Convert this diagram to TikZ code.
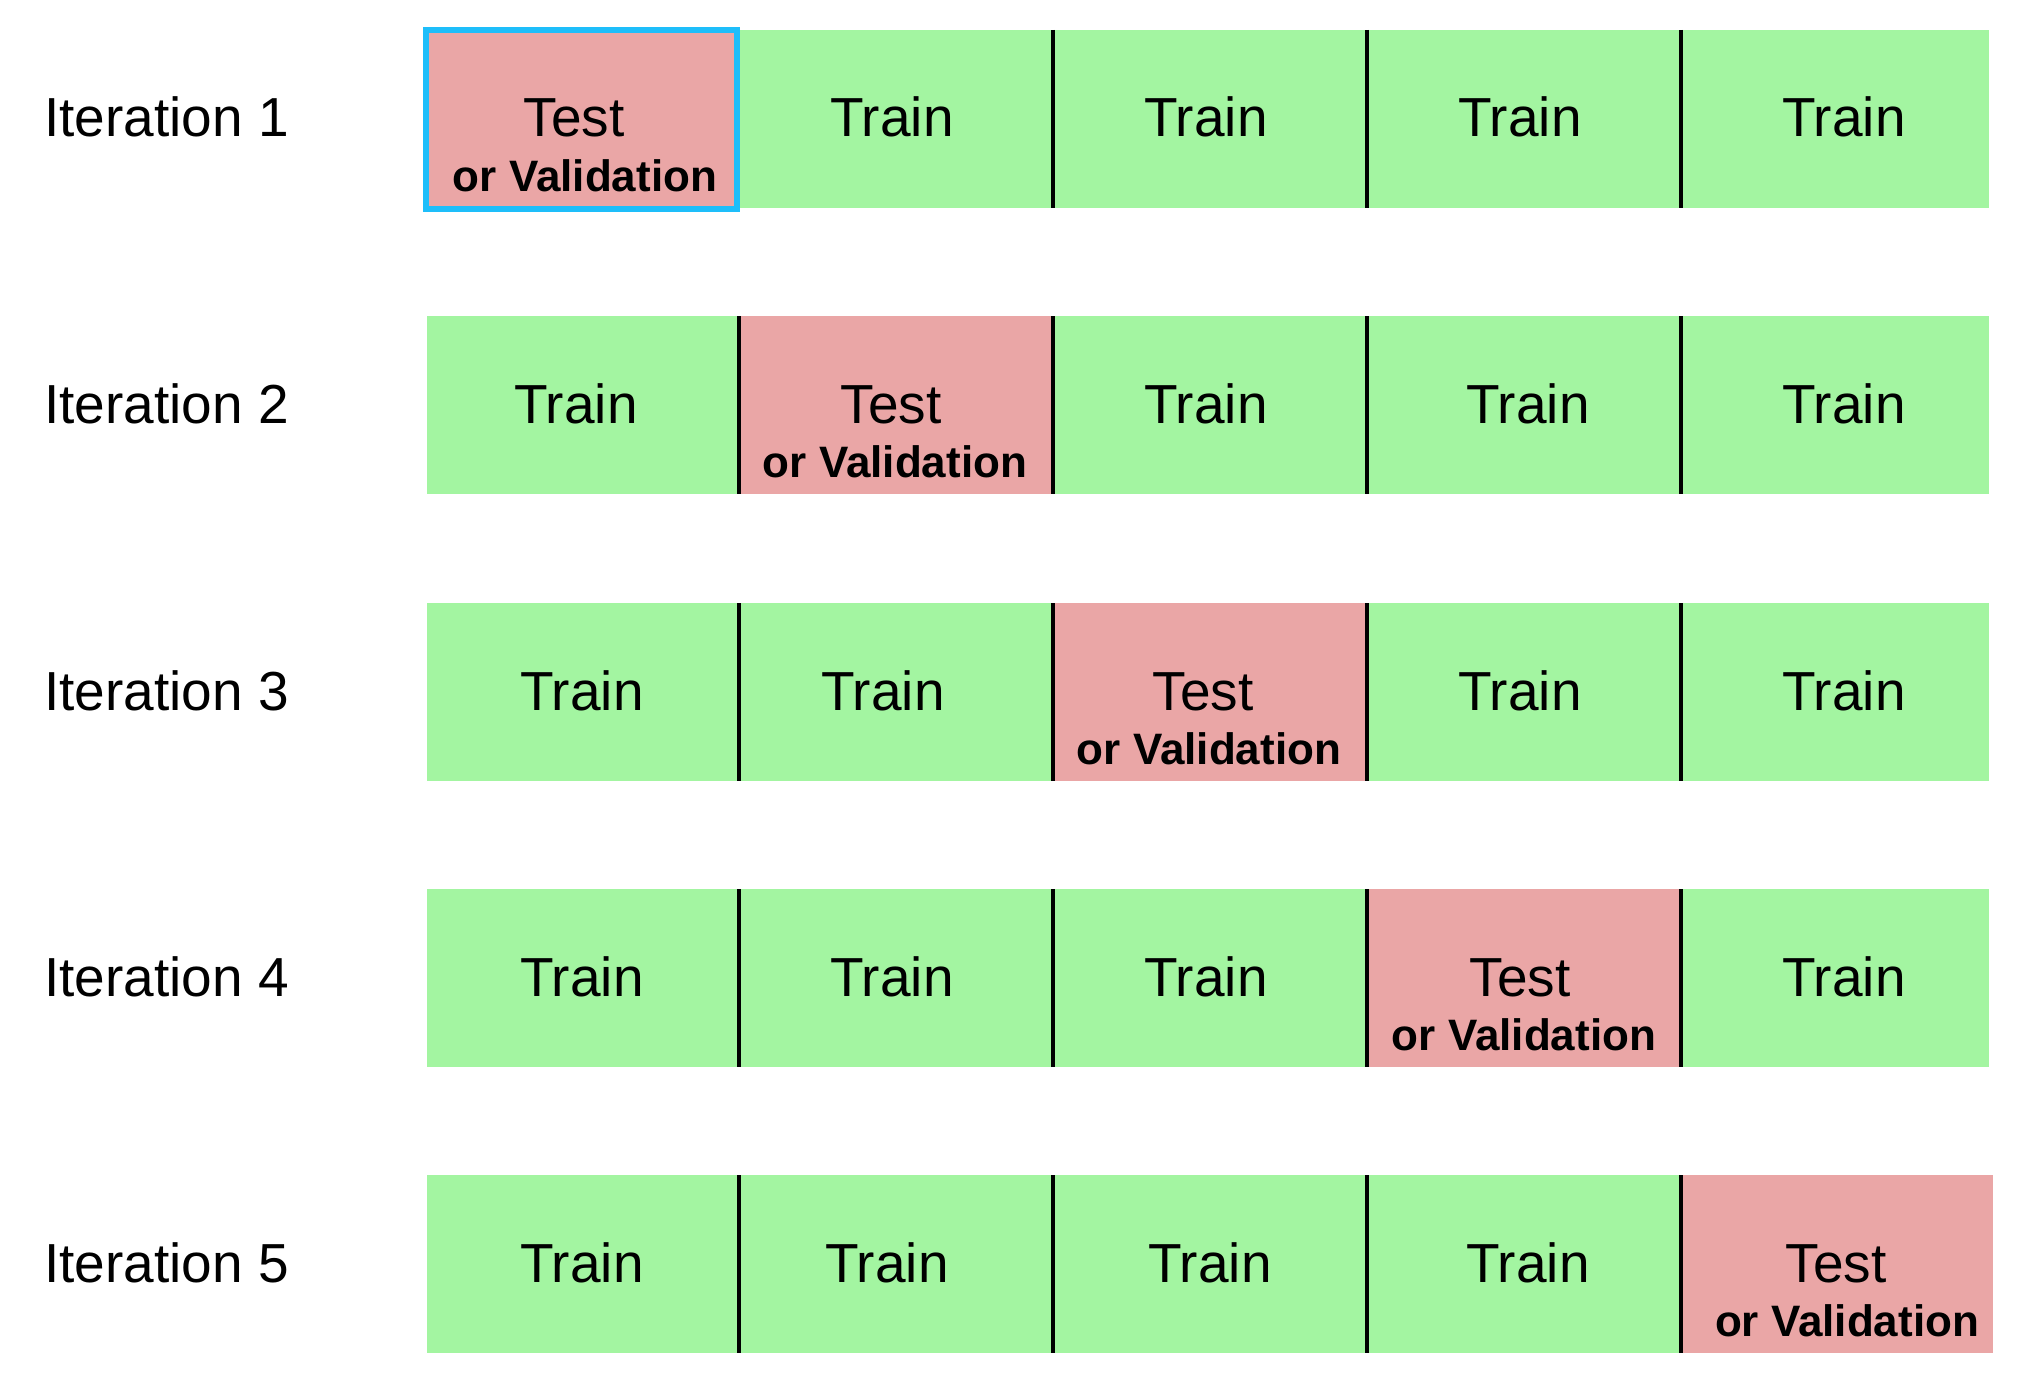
\documentclass[tikz,border=0pt]{standalone}
\usepackage{fontspec}
\setmainfont{Liberation Sans}
\definecolor{trainfill}{RGB}{163,245,161}
\definecolor{testfill}{RGB}{234,166,166}
\definecolor{hilite}{RGB}{30,190,250}
\begin{document}
\begin{tikzpicture}[x=1pt,y=-1pt,
  bigtext/.style={inner sep=0pt,anchor=base,font=\fontsize{55}{60}\selectfont},
  smalltext/.style={inner sep=0pt,anchor=base,font=\fontsize{44}{48}\selectfont\bfseries},
  divider/.style={line width=4pt,black}]
\useasboundingbox (0,0) rectangle (2042,1394);
% green strips for every iteration
\foreach \r/\t in {1/30,2/316,3/603,4/889,5/1175}
  \fill[trainfill] (427,\t) rectangle (1989,\t+178);
% held-out fold of each iteration
\foreach \r/\t/\xl/\xr in {1/30/427/739,2/316/739/1053,3/603/1053/1367,4/889/1367/1681,5/1175/1681/1993}
  \fill[testfill] (\xl,\t) rectangle (\xr,\t+178);
% fold separators
\foreach \t in {316,603,889,1175}
  \foreach \x in {739,1053,1367,1681}
    \draw[divider] (\x,\t) -- (\x,\t+178);
\foreach \x in {1053,1367,1681}
  \draw[divider] (\x,30) -- (\x,208);
% highlighted first fold
\draw[hilite,line width=6pt] (426,30) rectangle (737,209);
% iteration labels
\foreach \r/\t in {1/30,2/316,3/603,4/889,5/1175}
  \node[bigtext,anchor=base west] (it\r) at (44,\t+107) {Iteration \r};
% train labels
\foreach \n/\x/\t in {a/892/30,b/1206/30,c/1520/30,d/1844/30,
                      e/576/316,f/1206/316,g/1528/316,h/1844/316,
                      i/582/603,j/883/603,k/1520/603,l/1844/603,
                      m/582/889,n/892/889,o/1206/889,p/1844/889,
                      q/582/1175,r/887/1175,s/1210/1175,u/1528/1175}
  \node[bigtext] (train\n) at (\x,\t+107) {Train};
% test labels
\foreach \r/\t/\xa/\xb in {1/30/574/585,2/316/891/895,3/603/1203/1209,4/889/1520/1524,5/1175/1836/1847} {
  \node[bigtext] (test\r) at (\xa,\t+107) {Test};
  \node[smalltext] (val\r) at (\xb,\t+161) {or Validation};
}
\end{tikzpicture}
\end{document}
